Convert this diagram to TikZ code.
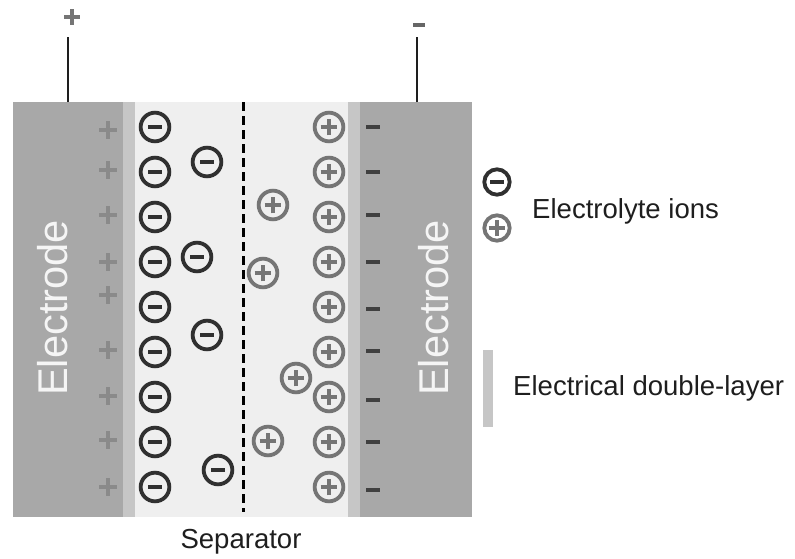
\documentclass[tikz,border=0pt]{standalone}
\usepackage{fontspec}
\setmainfont{Liberation Sans}
\usepackage{tikz}
\usetikzlibrary{calc,positioning}
\definecolor{electrodegray}{HTML}{A8A8A8}
\definecolor{layergray}{HTML}{C6C6C6}
\definecolor{electrolytegray}{HTML}{EFEFEF}
\definecolor{aniondark}{HTML}{303030}
\definecolor{cationgray}{HTML}{757575}
\definecolor{chargegray}{HTML}{8A8A8A}
\definecolor{chargedark}{HTML}{404040}
\definecolor{textdark}{HTML}{1E1E1E}
\tikzset{
  ion/.style={circle, line width=0.115cm, minimum size=0.86cm, inner sep=0pt},
  anion/.style={ion, draw=aniondark, path picture={\draw[aniondark, line width=0.12cm] ($(path picture bounding box.center)+(-0.2cm,0)$) -- ++(0.4cm,0);}},
  cation/.style={ion, draw=cationgray, path picture={\draw[cationgray, line width=0.095cm] ($(path picture bounding box.center)+(-0.25cm,0)$) -- ++(0.5cm,0) ($(path picture bounding box.center)+(0,-0.25cm)$) -- ++(0,0.5cm);}},
  legendion/.style={minimum size=0.76cm},
  poscharge/.style={chargegray, line width=0.12cm},
  negcharge/.style={chargedark, line width=0.1cm},
  wire/.style={textdark, line width=0.06cm},
  separatorline/.style={black, line width=0.09cm, dash pattern=on 0.27cm off 0.15cm},
  labeltext/.style={textdark, inner sep=0pt, font=\fontsize{23.5}{28}\selectfont},
  electrodetext/.style={white!96!black, inner sep=0pt, rotate=90, anchor=base, font=\fontsize{35.5}{42}\selectfont}
}
\begin{document}
\begin{tikzpicture}[x=0.03cm, y=-0.03cm]
  \useasboundingbox (0,0) rectangle (795,558);
  % cell: electrolyte, double layers, electrodes
  \fill[electrolytegray] (135,102) rectangle (348,517);
  \fill[layergray] (123,102) rectangle (135,517);
  \fill[layergray] (348,102) rectangle (360,517);
  \fill[electrodegray] (13,102) rectangle (123,517);
  \fill[electrodegray] (360,102) rectangle (472,517);
  % terminals
  \coordinate (postop) at (68,37);
  \coordinate (negtop) at (417,37);
  \draw[wire] (68,102) -- (postop);
  \draw[wire] (417,102) -- (negtop);
  \draw[poscharge, line width=0.11cm, cationgray] (72,17) +(-8,0) -- +(8,0) +(0,-8) -- +(0,8);
  \draw[negcharge, line width=0.12cm, chargedark!80] (413,25) -- (425,25);
  % separator
  \draw[separatorline] (243,102) -- (243,512);
  % charges in the electrodes
  \foreach \y in {130,170,215,262,295,350,396,440,487}{
    \draw[poscharge] (108,\y) +(-9,0) -- +(9,0) +(0,-9) -- +(0,9);
  }
  \foreach \y in {127,172,215,262,309,351,400,442,490}{
    \draw[negcharge] (366,\y) -- (380,\y);
  }
  % ions
  \foreach \i in {0,...,8}{
    \node[anion] (an\i) at (155,127+45*\i) {};
    \node[cation] (cat\i) at (329,127+45*\i) {};
  }
  \foreach \x/\y [count=\k] in {207/162,197/257,207/335,218/470}{
    \node[anion] (free-an\k) at (\x,\y) {};
  }
  \foreach \x/\y [count=\k] in {273/205,263/273,296/378,268/441}{
    \node[cation] (free-cat\k) at (\x,\y) {};
  }
  % labels
  \node[electrodetext] (leftelectrode) at (67,308) {Electrode};
  \node[electrodetext] (rightelectrode) at (448,308) {Electrode};
  \node[labeltext, anchor=base] (separator) at (241,548) {Separator};
  % legend
  \node[anion, legendion] (key-an) at (497,182) {};
  \node[cation, legendion] (key-cat) at (497,228) {};
  \node[labeltext, anchor=base west] (ionkey) at (532,218) {Electrolyte ions};
  \fill[layergray] (483,350) rectangle (493,427);
  \node[labeltext, anchor=base west] (layerkey) at (513,395) {Electrical double-layer};
\end{tikzpicture}
\end{document}
